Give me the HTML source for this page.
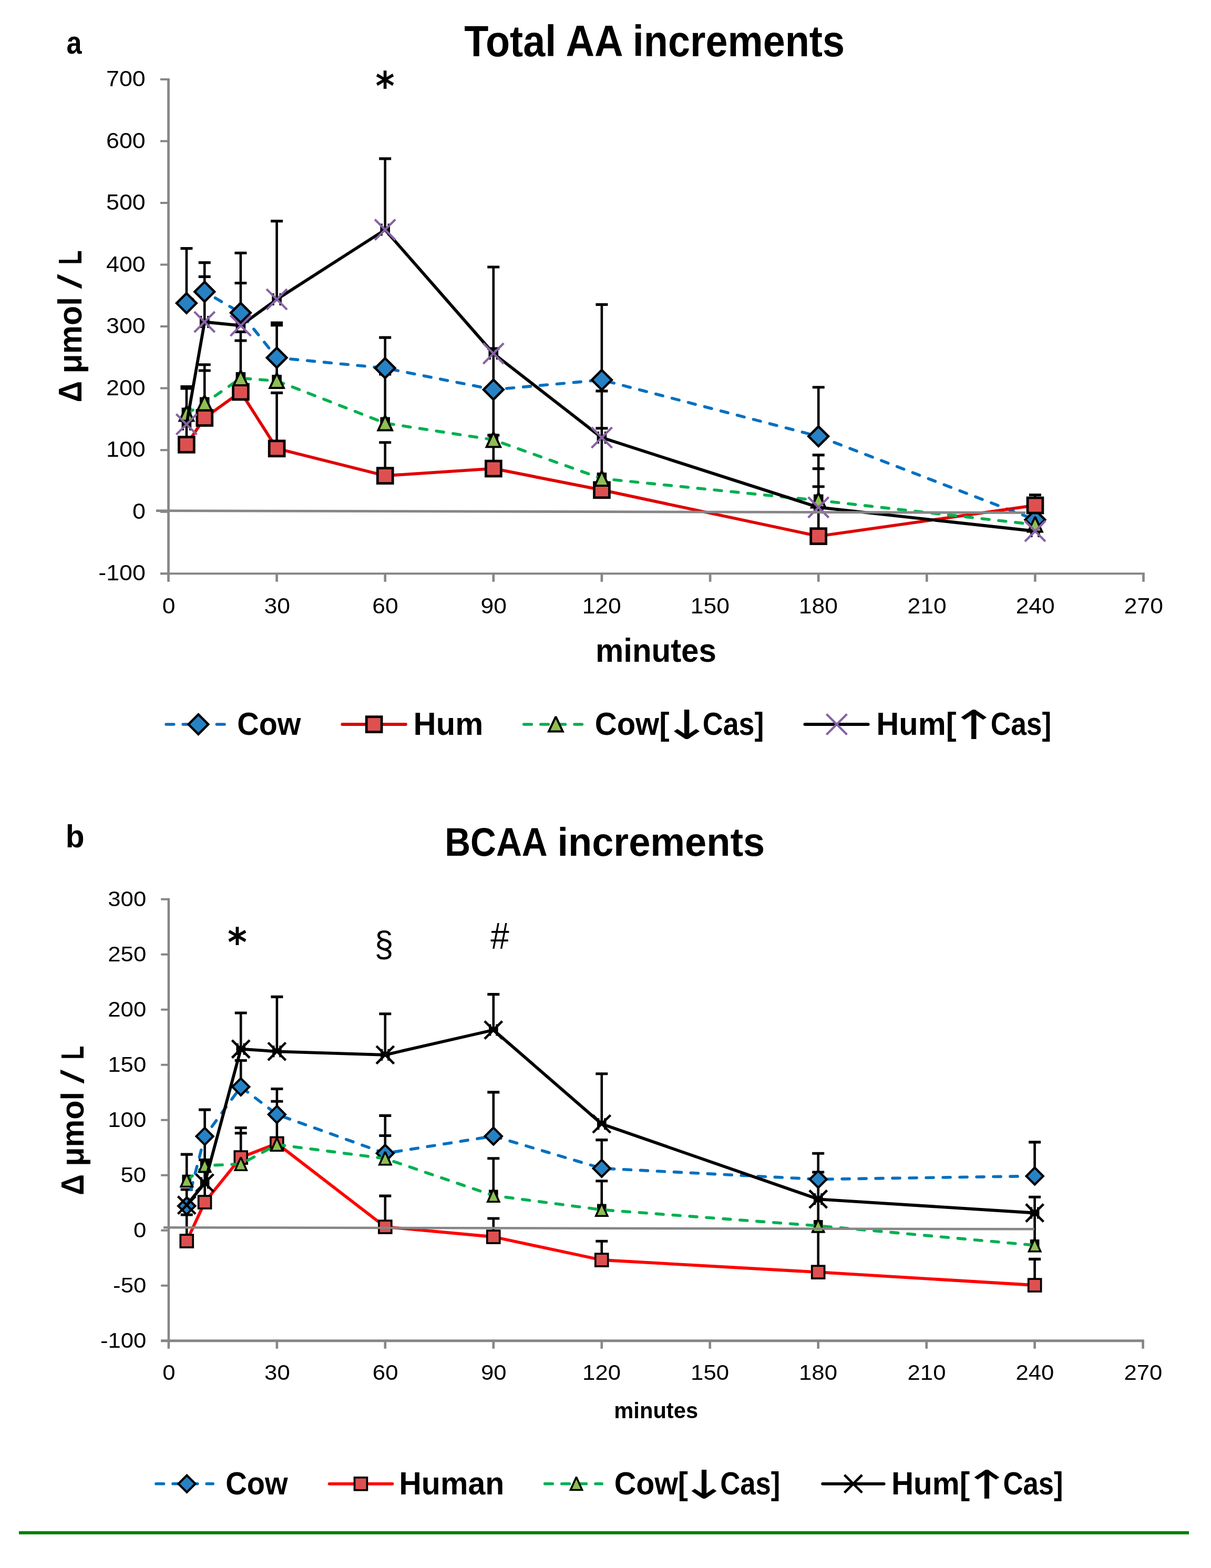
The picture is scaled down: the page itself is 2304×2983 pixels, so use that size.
<!DOCTYPE html>
<html lang="en">
<head>
<meta charset="utf-8">
<title>Total AA increments / BCAA increments</title>
<style>
html,body{margin:0;padding:0;background:#fff}
svg{display:block}
text{font-family:"Liberation Sans",sans-serif;fill:#000}
.b{font-weight:bold}
.dj{font-family:"DejaVu Sans",sans-serif}
.n{font-weight:normal}
</style>
</head>
<body>
<svg width="2304" height="2983" viewBox="0 0 2304 2983">
<rect width="2304" height="2983" fill="#fff"/>
<path d="M305 151H320.5M305 268.5H320.5M305 386.1H320.5M305 503.6H320.5M305 621.1H320.5M305 738.6H320.5M305 856.2H320.5M305 973.7H320.5M305 1091.2H320.5" stroke="#868686" stroke-width="4" fill="none"/>
<path d="M526.6 1091.2V1106.8M732.7 1091.2V1106.8M938.8 1091.2V1106.8M1144.9 1091.2V1106.8M1351.1 1091.2V1106.8M1557.2 1091.2V1106.8M1763.3 1091.2V1106.8M1969.4 1091.2V1106.8M2175.5 1091.2V1106.8" stroke="#868686" stroke-width="4.6" fill="none"/>
<path d="M320.5 149V1106.8" stroke="#868686" stroke-width="4.7" fill="none"/>
<path d="M305 1091.2H2177.8" stroke="#868686" stroke-width="4.0" fill="none"/>
<path d="M354.9 576.8V472.6M389.2 555V499.6M457.9 595.1V481.3M526.6 680.5V614M732.7 700.3V642.1M938.8 741.2V663.1M1144.9 722.8V579.4M1557.2 830.1V736.7M1969.4 988.7V962M354.9 845.8V800M389.2 795V705M457.9 745.5V648M526.6 853.2V747.4M732.7 905V841.8M938.8 891.4V828M1144.9 932.2V921M1557.2 1020V925.7M1969.4 961.4V941.5M354.9 787V735.6M389.2 767V693.8M457.9 719.5V631.3M526.6 724.5V618.6M732.7 805V712M938.8 836.7V745M1144.9 910.5V814.8M1557.2 952V891.6M1969.4 998V985M354.9 807.2V739M389.2 612.5V526.4M457.9 619.4V538.5M526.6 569.5V420.6M732.7 437.1V301.9M938.8 672.5V508M1144.9 832.6V743.9M1557.2 965.2V865.6M1969.4 1010.5V1009" stroke="#000" stroke-width="4.6" fill="none"/>
<path d="M343.4 472.6h23M377.7 499.6h23M446.4 481.3h23M515.1 614h23M721.2 642.1h23M927.3 663.1h23M1133.4 579.4h23M1545.7 736.7h23M1957.9 962h23M343.4 800h23M377.7 705h23M446.4 648h23M515.1 747.4h23M721.2 841.8h23M927.3 828h23M1133.4 921h23M1545.7 925.7h23M1957.9 941.5h23M343.4 735.6h23M377.7 693.8h23M446.4 631.3h23M515.1 618.6h23M721.2 712h23M927.3 745h23M1133.4 814.8h23M1545.7 891.6h23M1957.9 985h23M343.4 739h23M377.7 526.4h23M446.4 538.5h23M515.1 420.6h23M721.2 301.9h23M927.3 508h23M1133.4 743.9h23M1545.7 865.6h23M1957.9 1009h23" stroke="#000" stroke-width="5.1" fill="none"/>
<path d="M347.8 795.7v23M362 795.7v23M347.8 807.2h14.2M382.1 601v23M396.3 601v23M382.1 612.5h14.2M450.8 607.9v23M465 607.9v23M450.8 619.4h14.2M519.5 558v23M533.7 558v23M519.5 569.5h14.2M725.6 425.6v23M739.8 425.6v23M725.6 437.1h14.2M931.7 661v23M945.9 661v23M931.7 672.5h14.2M1137.8 821.1v23M1152 821.1v23M1137.8 832.6h14.2M1550.1 953.7v23M1564.3 953.7v23M1550.1 965.2h14.2M1962.3 999v23M1976.5 999v23M1962.3 1010.5h14.2" stroke="#000" stroke-width="4.4" fill="none"/>
<path d="M345.6 775.5h18.6v23h-18.6zM379.9 755.5h18.6v23h-18.6zM448.6 708h18.6v23h-18.6zM517.3 713h18.6v23h-18.6zM723.4 793.5h18.6v23h-18.6zM929.5 825.2h18.6v23h-18.6zM1135.6 899h18.6v23h-18.6zM1547.9 940.5h18.6v23h-18.6zM1960.1 986.5h18.6v23h-18.6z" fill="#000"/>
<path d="M354.9 576.8L389.2 555L457.9 595.1L526.6 680.5L732.7 700.3L938.8 741.2L1144.9 722.8L1557.2 830.1L1969.4 988.7" stroke="#0070C0" stroke-width="5.6" fill="none" stroke-dasharray="14 18" stroke-linecap="round" stroke-linejoin="round"/>
<path d="M354.9 558L373.7 576.8L354.9 595.6L336 576.8Z" fill="#2682C4" stroke="#000" stroke-width="4.5"/>
<path d="M389.2 536.2L408 555L389.2 573.8L370.4 555Z" fill="#2682C4" stroke="#000" stroke-width="4.5"/>
<path d="M457.9 576.3L476.7 595.1L457.9 613.9L439.1 595.1Z" fill="#2682C4" stroke="#000" stroke-width="4.5"/>
<path d="M526.6 661.7L545.4 680.5L526.6 699.3L507.8 680.5Z" fill="#2682C4" stroke="#000" stroke-width="4.5"/>
<path d="M732.7 681.5L751.5 700.3L732.7 719.1L713.9 700.3Z" fill="#2682C4" stroke="#000" stroke-width="4.5"/>
<path d="M938.8 722.4L957.7 741.2L938.8 760L920 741.2Z" fill="#2682C4" stroke="#000" stroke-width="4.5"/>
<path d="M1144.9 704L1163.8 722.8L1144.9 741.6L1126.1 722.8Z" fill="#2682C4" stroke="#000" stroke-width="4.5"/>
<path d="M1557.2 811.3L1576 830.1L1557.2 848.9L1538.3 830.1Z" fill="#2682C4" stroke="#000" stroke-width="4.5"/>
<path d="M1969.4 969.9L1988.2 988.7L1969.4 1007.5L1950.6 988.7Z" fill="#2682C4" stroke="#000" stroke-width="4.5"/>
<path d="M354.9 845.8L389.2 795L457.9 745.5L526.6 853.2L732.7 905L938.8 891.4L1144.9 932.2L1557.2 1020L1969.4 961.4" stroke="#E00000" stroke-width="5.8" fill="none" stroke-linejoin="round"/>
<rect x="340.4" y="831.4" width="28.9" height="28.9" fill="#DE5050" stroke="#000" stroke-width="4.75"/>
<rect x="374.8" y="780.6" width="28.9" height="28.9" fill="#DE5050" stroke="#000" stroke-width="4.75"/>
<rect x="443.5" y="731.1" width="28.9" height="28.9" fill="#DE5050" stroke="#000" stroke-width="4.75"/>
<rect x="512.2" y="838.8" width="28.9" height="28.9" fill="#DE5050" stroke="#000" stroke-width="4.75"/>
<rect x="718.3" y="890.6" width="28.9" height="28.9" fill="#DE5050" stroke="#000" stroke-width="4.75"/>
<rect x="924.4" y="877" width="28.9" height="28.9" fill="#DE5050" stroke="#000" stroke-width="4.75"/>
<rect x="1130.5" y="917.8" width="28.9" height="28.9" fill="#DE5050" stroke="#000" stroke-width="4.75"/>
<rect x="1542.7" y="1005.6" width="28.9" height="28.9" fill="#DE5050" stroke="#000" stroke-width="4.75"/>
<rect x="1955" y="947" width="28.9" height="28.9" fill="#DE5050" stroke="#000" stroke-width="4.75"/>
<path d="M354.9 787L389.2 767L457.9 719.5L526.6 724.5L732.7 805L938.8 836.7L1144.9 910.5L1557.2 952L1969.4 998" stroke="#00B050" stroke-width="5.6" fill="none" stroke-dasharray="14 18" stroke-linecap="round" stroke-linejoin="round"/>
<path d="M354.9 772.4L368.1 800.5L341.6 800.5Z" fill="#8EBF52" stroke="#000" stroke-width="4.0" stroke-miterlimit="2"/>
<path d="M389.2 752.4L402.5 780.5L375.9 780.5Z" fill="#8EBF52" stroke="#000" stroke-width="4.0" stroke-miterlimit="2"/>
<path d="M457.9 704.9L471.2 733L444.6 733Z" fill="#8EBF52" stroke="#000" stroke-width="4.0" stroke-miterlimit="2"/>
<path d="M526.6 709.9L539.9 738L513.4 738Z" fill="#8EBF52" stroke="#000" stroke-width="4.0" stroke-miterlimit="2"/>
<path d="M732.7 790.4L746 818.5L719.5 818.5Z" fill="#8EBF52" stroke="#000" stroke-width="4.0" stroke-miterlimit="2"/>
<path d="M938.8 822.1L952.1 850.2L925.6 850.2Z" fill="#8EBF52" stroke="#000" stroke-width="4.0" stroke-miterlimit="2"/>
<path d="M1144.9 895.9L1158.2 924L1131.7 924Z" fill="#8EBF52" stroke="#000" stroke-width="4.0" stroke-miterlimit="2"/>
<path d="M1557.2 937.4L1570.4 965.5L1543.9 965.5Z" fill="#8EBF52" stroke="#000" stroke-width="4.0" stroke-miterlimit="2"/>
<path d="M1969.4 983.4L1982.6 1011.5L1956.1 1011.5Z" fill="#8EBF52" stroke="#000" stroke-width="4.0" stroke-miterlimit="2"/>
<path d="M354.9 807.2L389.2 612.5L457.9 619.4L526.6 569.5L732.7 437.1L938.8 672.5L1144.9 832.6L1557.2 965.2L1969.4 1010.5" stroke="#000" stroke-width="5.8" fill="none" stroke-linejoin="round"/>
<path d="M335.3 787.7L374.4 826.7M335.3 826.7L374.4 787.7" fill="none" stroke="#8762A6" stroke-width="4.2"/>
<path d="M369.7 593L408.7 632M369.7 632L408.7 593" fill="none" stroke="#8762A6" stroke-width="4.2"/>
<path d="M438.4 599.9L477.4 638.9M438.4 638.9L477.4 599.9" fill="none" stroke="#8762A6" stroke-width="4.2"/>
<path d="M507.1 550L546.1 589M507.1 589L546.1 550" fill="none" stroke="#8762A6" stroke-width="4.2"/>
<path d="M713.2 417.6L752.2 456.6M713.2 456.6L752.2 417.6" fill="none" stroke="#8762A6" stroke-width="4.2"/>
<path d="M919.3 653L958.3 692M919.3 692L958.3 653" fill="none" stroke="#8762A6" stroke-width="4.2"/>
<path d="M1125.4 813.1L1164.5 852.1M1125.4 852.1L1164.5 813.1" fill="none" stroke="#8762A6" stroke-width="4.2"/>
<path d="M1537.7 945.7L1576.7 984.7M1537.7 984.7L1576.7 945.7" fill="none" stroke="#8762A6" stroke-width="4.2"/>
<path d="M1949.9 991L1988.9 1030M1949.9 1030L1988.9 991" fill="none" stroke="#8762A6" stroke-width="4.2"/>
<path d="M297 971.6L1951 975.4" stroke="#868686" stroke-width="4.8" fill="none"/>
<path d="M316.1 1378H427.3" stroke="#0070C0" stroke-width="5.6" stroke-dasharray="14.6 17.5" stroke-linecap="round" fill="none"/>
<path d="M377.4 1359.2L396.2 1378L377.4 1396.8L358.6 1378Z" fill="#2682C4" stroke="#000" stroke-width="4.5"/>
<path d="M651.3 1378H772" stroke="#E00000" stroke-width="5.8" stroke-linecap="round" fill="none"/>
<rect x="697.2" y="1363.6" width="28.9" height="28.9" fill="#DE5050" stroke="#000" stroke-width="4.75"/>
<path d="M996.7 1378H1107.3" stroke="#00B050" stroke-width="5.6" stroke-dasharray="14.6 17.5" stroke-linecap="round" fill="none"/>
<path d="M1057.4 1363.4L1070.7 1391.5L1044.1 1391.5Z" fill="#8EBF52" stroke="#000" stroke-width="4.0" stroke-miterlimit="2"/>
<path d="M1531.4 1378H1651.7" stroke="#000" stroke-width="5.8" stroke-linecap="round" fill="none"/>
<path d="M1572.4 1358.5L1611.4 1397.5M1572.4 1397.5L1611.4 1358.5" fill="none" stroke="#8762A6" stroke-width="4.2"/>
<path d="M306.2 1710.7H320.9M306.2 1815.7H320.9M306.2 1920.7H320.9M306.2 2025.7H320.9M306.2 2130.8H320.9M306.2 2235.8H320.9M306.2 2340.8H320.9M306.2 2445.8H320.9M306.2 2550.8H320.9" stroke="#868686" stroke-width="4" fill="none"/>
<path d="M526.9 2550.8V2565.7M732.8 2550.8V2565.7M938.8 2550.8V2565.7M1144.8 2550.8V2565.7M1350.7 2550.8V2565.7M1556.7 2550.8V2565.7M1762.7 2550.8V2565.7M1968.6 2550.8V2565.7M2174.6 2550.8V2565.7" stroke="#868686" stroke-width="4.6" fill="none"/>
<path d="M320.9 1708.7V2565.7" stroke="#868686" stroke-width="4.5" fill="none"/>
<path d="M306.2 2550.8H2176.9" stroke="#868686" stroke-width="5.0" fill="none"/>
<path d="M355.2 2294.3V2263M389.6 2161.8V2111.1M458.2 2067.6V2017.5M526.9 2120.2V2095.2M732.8 2194.1V2122.4M938.8 2161.4V2077.9M1144.8 2222.7V2168.6M1556.7 2243.5V2194.2M1968.6 2237.4V2172.9M355.2 2361V2311M389.6 2287V2229M458.2 2202V2145.5M526.9 2175.4V2122M732.8 2334V2275.1M938.8 2353V2318M1144.8 2397V2361.3M1556.7 2420.2V2343M1968.6 2445V2395.4M355.2 2245.8V2196.1M389.6 2217.5V2163M458.2 2214.5V2155.8M526.9 2177.5V2071.5M732.8 2204V2160.5M938.8 2274.5V2203.7M1144.8 2301.5V2246.7M1556.7 2332V2243.5M1968.6 2369V2277.3M355.2 2292.7V2263M389.6 2250.4V2206.5M458.2 1995.7V1927M526.9 2000.3V1896.4M732.8 2006.8V1928.7M938.8 1959.5V1891.6M1144.8 2138.2V2042.8M1556.7 2281.3V2230M1968.6 2307.5V2277.3" stroke="#000" stroke-width="4.6" fill="none"/>
<path d="M343.7 2263h23M378.1 2111.1h23M446.7 2017.5h23M515.4 2095.2h23M721.3 2122.4h23M927.3 2077.9h23M1133.3 2168.6h23M1545.2 2194.2h23M1957.1 2172.9h23M343.7 2311h23M378.1 2229h23M446.7 2145.5h23M515.4 2122h23M721.3 2275.1h23M927.3 2318h23M1133.3 2361.3h23M1545.2 2343h23M1957.1 2395.4h23M343.7 2196.1h23M378.1 2163h23M446.7 2155.8h23M515.4 2071.5h23M721.3 2160.5h23M927.3 2203.7h23M1133.3 2246.7h23M1545.2 2243.5h23M1957.1 2277.3h23M343.7 2263h23M378.1 2206.5h23M446.7 1927h23M515.4 1896.4h23M721.3 1928.7h23M927.3 1891.6h23M1133.3 2042.8h23M1545.2 2230h23M1957.1 2277.3h23" stroke="#000" stroke-width="5.1" fill="none"/>
<path d="M348.6 2281.7v22M361.8 2281.7v22M348.6 2292.7h13.2M383 2239.4v22M396.2 2239.4v22M383 2250.4h13.2M451.6 1984.7v22M464.8 1984.7v22M451.6 1995.7h13.2M520.3 1989.3v22M533.5 1989.3v22M520.3 2000.3h13.2M726.2 1995.8v22M739.4 1995.8v22M726.2 2006.8h13.2M932.2 1948.5v22M945.4 1948.5v22M932.2 1959.5h13.2M1138.2 2127.2v22M1151.4 2127.2v22M1138.2 2138.2h13.2M1550.1 2270.3v22M1563.3 2270.3v22M1550.1 2281.3h13.2M1962 2296.5v22M1975.2 2296.5v22M1962 2307.5h13.2" stroke="#000" stroke-width="4.4" fill="none"/>
<path d="M346.4 2234.8h17.6v22h-17.6zM380.8 2206.5h17.6v22h-17.6zM449.4 2203.5h17.6v22h-17.6zM518.1 2166.5h17.6v22h-17.6zM724 2193h17.6v22h-17.6zM930 2263.5h17.6v22h-17.6zM1136 2290.5h17.6v22h-17.6zM1547.9 2321h17.6v22h-17.6zM1959.8 2358h17.6v22h-17.6z" fill="#000"/>
<path d="M355.2 2294.3L389.6 2161.8L458.2 2067.6L526.9 2120.2L732.8 2194.1L938.8 2161.4L1144.8 2222.7L1556.7 2243.5L1968.6 2237.4" stroke="#0070C0" stroke-width="5.6" fill="none" stroke-dasharray="14 18" stroke-linecap="round" stroke-linejoin="round"/>
<path d="M355.2 2278.2L371.3 2294.3L355.2 2310.4L339.1 2294.3Z" fill="#2682C4" stroke="#000" stroke-width="4.2"/>
<path d="M389.6 2145.7L405.6 2161.8L389.6 2177.9L373.5 2161.8Z" fill="#2682C4" stroke="#000" stroke-width="4.2"/>
<path d="M458.2 2051.5L474.3 2067.6L458.2 2083.7L442.1 2067.6Z" fill="#2682C4" stroke="#000" stroke-width="4.2"/>
<path d="M526.9 2104.1L542.9 2120.2L526.9 2136.3L510.8 2120.2Z" fill="#2682C4" stroke="#000" stroke-width="4.2"/>
<path d="M732.8 2178L748.9 2194.1L732.8 2210.2L716.8 2194.1Z" fill="#2682C4" stroke="#000" stroke-width="4.2"/>
<path d="M938.8 2145.3L954.9 2161.4L938.8 2177.5L922.7 2161.4Z" fill="#2682C4" stroke="#000" stroke-width="4.2"/>
<path d="M1144.8 2206.6L1160.8 2222.7L1144.8 2238.8L1128.7 2222.7Z" fill="#2682C4" stroke="#000" stroke-width="4.2"/>
<path d="M1556.7 2227.4L1572.8 2243.5L1556.7 2259.6L1540.6 2243.5Z" fill="#2682C4" stroke="#000" stroke-width="4.2"/>
<path d="M1968.6 2221.3L1984.7 2237.4L1968.6 2253.5L1952.6 2237.4Z" fill="#2682C4" stroke="#000" stroke-width="4.2"/>
<path d="M355.2 2361L389.6 2287L458.2 2202L526.9 2175.4L732.8 2334L938.8 2353L1144.8 2397L1556.7 2420.2L1968.6 2445" stroke="#FF0000" stroke-width="5.8" fill="none" stroke-linejoin="round"/>
<rect x="343.3" y="2349.1" width="23.9" height="23.9" fill="#DE5050" stroke="#000" stroke-width="3.7"/>
<rect x="377.6" y="2275.1" width="23.9" height="23.9" fill="#DE5050" stroke="#000" stroke-width="3.7"/>
<rect x="446.3" y="2190.1" width="23.9" height="23.9" fill="#DE5050" stroke="#000" stroke-width="3.7"/>
<rect x="514.9" y="2163.5" width="23.9" height="23.9" fill="#DE5050" stroke="#000" stroke-width="3.7"/>
<rect x="720.9" y="2322.1" width="23.9" height="23.9" fill="#DE5050" stroke="#000" stroke-width="3.7"/>
<rect x="926.8" y="2341.1" width="23.9" height="23.9" fill="#DE5050" stroke="#000" stroke-width="3.7"/>
<rect x="1132.8" y="2385.1" width="23.9" height="23.9" fill="#DE5050" stroke="#000" stroke-width="3.7"/>
<rect x="1544.7" y="2408.2" width="23.9" height="23.9" fill="#DE5050" stroke="#000" stroke-width="3.7"/>
<rect x="1956.7" y="2433.1" width="23.9" height="23.9" fill="#DE5050" stroke="#000" stroke-width="3.7"/>
<path d="M355.2 2245.8L389.6 2217.5L458.2 2214.5L526.9 2177.5L732.8 2204L938.8 2274.5L1144.8 2301.5L1556.7 2332L1968.6 2369" stroke="#00B050" stroke-width="5.6" fill="none" stroke-dasharray="14 18" stroke-linecap="round" stroke-linejoin="round"/>
<path d="M355.2 2233.1L366.3 2257.5L344.2 2257.5Z" fill="#8EBF52" stroke="#000" stroke-width="3.6" stroke-miterlimit="2"/>
<path d="M389.6 2204.8L400.6 2229.2L378.5 2229.2Z" fill="#8EBF52" stroke="#000" stroke-width="3.6" stroke-miterlimit="2"/>
<path d="M458.2 2201.8L469.2 2226.2L447.2 2226.2Z" fill="#8EBF52" stroke="#000" stroke-width="3.6" stroke-miterlimit="2"/>
<path d="M526.9 2164.8L537.9 2189.2L515.8 2189.2Z" fill="#8EBF52" stroke="#000" stroke-width="3.6" stroke-miterlimit="2"/>
<path d="M732.8 2191.3L743.9 2215.7L721.8 2215.7Z" fill="#8EBF52" stroke="#000" stroke-width="3.6" stroke-miterlimit="2"/>
<path d="M938.8 2261.8L949.8 2286.2L927.8 2286.2Z" fill="#8EBF52" stroke="#000" stroke-width="3.6" stroke-miterlimit="2"/>
<path d="M1144.8 2288.8L1155.8 2313.2L1133.7 2313.2Z" fill="#8EBF52" stroke="#000" stroke-width="3.6" stroke-miterlimit="2"/>
<path d="M1556.7 2319.3L1567.7 2343.7L1545.7 2343.7Z" fill="#8EBF52" stroke="#000" stroke-width="3.6" stroke-miterlimit="2"/>
<path d="M1968.6 2356.3L1979.7 2380.7L1957.6 2380.7Z" fill="#8EBF52" stroke="#000" stroke-width="3.6" stroke-miterlimit="2"/>
<path d="M355.2 2292.7L389.6 2250.4L458.2 1995.7L526.9 2000.3L732.8 2006.8L938.8 1959.5L1144.8 2138.2L1556.7 2281.3L1968.6 2307.5" stroke="#000" stroke-width="5.8" fill="none" stroke-linejoin="round"/>
<path d="M338.5 2275.9L372 2309.5M338.5 2309.5L372 2275.9" fill="none" stroke="#000000" stroke-width="4.6"/>
<path d="M372.8 2233.6L406.3 2267.2M372.8 2267.2L406.3 2233.6" fill="none" stroke="#000000" stroke-width="4.6"/>
<path d="M441.4 1978.9L475 2012.5M441.4 2012.5L475 1978.9" fill="none" stroke="#000000" stroke-width="4.6"/>
<path d="M510.1 1983.5L543.6 2017.1M510.1 2017.1L543.6 1983.5" fill="none" stroke="#000000" stroke-width="4.6"/>
<path d="M716.1 1990L749.6 2023.6M716.1 2023.6L749.6 1990" fill="none" stroke="#000000" stroke-width="4.6"/>
<path d="M922 1942.7L955.6 1976.3M922 1976.3L955.6 1942.7" fill="none" stroke="#000000" stroke-width="4.6"/>
<path d="M1128 2121.4L1161.5 2155M1128 2155L1161.5 2121.4" fill="none" stroke="#000000" stroke-width="4.6"/>
<path d="M1539.9 2264.5L1573.5 2298.1M1539.9 2298.1L1573.5 2264.5" fill="none" stroke="#000000" stroke-width="4.6"/>
<path d="M1951.9 2290.7L1985.4 2324.3M1951.9 2324.3L1985.4 2290.7" fill="none" stroke="#000000" stroke-width="4.6"/>
<path d="M311 2335.2L1968 2338.3" stroke="#868686" stroke-width="4.6" fill="none"/>
<path d="M296.9 2822.8H405.2" stroke="#0070C0" stroke-width="5.6" stroke-dasharray="14.6 17.5" stroke-linecap="round" fill="none"/>
<path d="M355.5 2806.7L371.6 2822.8L355.5 2838.9L339.4 2822.8Z" fill="#2682C4" stroke="#000" stroke-width="4.2"/>
<path d="M626.6 2822.8H746.5" stroke="#FF0000" stroke-width="5.8" stroke-linecap="round" fill="none"/>
<rect x="674.5" y="2810.9" width="23.9" height="23.9" fill="#DE5050" stroke="#000" stroke-width="3.7"/>
<path d="M1036.7 2822.8H1145.2" stroke="#00B050" stroke-width="5.6" stroke-dasharray="14.6 17.5" stroke-linecap="round" fill="none"/>
<path d="M1096.5 2810.1L1107.5 2834.5L1085.5 2834.5Z" fill="#8EBF52" stroke="#000" stroke-width="3.6" stroke-miterlimit="2"/>
<path d="M1565.1 2822.8H1681.7" stroke="#000" stroke-width="5.8" stroke-linecap="round" fill="none"/>
<path d="M1606.6 2806L1640.2 2839.6M1606.6 2839.6L1640.2 2806" fill="none" stroke="#000000" stroke-width="4.6"/>
<rect x="36" y="2913" width="2226" height="6" fill="#008000"/>
<text class="b" x="126.43" y="102.18" font-size="61.64" textLength="29.07" lengthAdjust="spacingAndGlyphs">a</text>
<text class="b" x="883.34" y="106.76" font-size="83.67" textLength="723.73" lengthAdjust="spacingAndGlyphs">Total AA increments</text>
<text class="b" x="1132.9" y="1259.28" font-size="62.45" textLength="229.94" lengthAdjust="spacingAndGlyphs">minutes</text>
<text class="b dj" x="714.62" y="190.14" font-size="75.48" textLength="36.17" lengthAdjust="spacingAndGlyphs">*</text>
<text class="b" x="124.69" y="1611.69" font-size="61.22" textLength="35.8" lengthAdjust="spacingAndGlyphs">b</text>
<text class="b"><tspan x="846.2" y="1628.3" font-size="76.38" textLength="195.54" lengthAdjust="spacingAndGlyphs">BCAA</tspan> <tspan x="1060.42" y="1628.3" font-size="76.38" textLength="394.88" lengthAdjust="spacingAndGlyphs">increments</tspan></text>
<text class="b" x="1168.29" y="2698.37" font-size="43.13" textLength="159.84" lengthAdjust="spacingAndGlyphs">minutes</text>
<text class="b dj" x="433.09" y="1819.02" font-size="75.05" textLength="36.83" lengthAdjust="spacingAndGlyphs">*</text>
<text x="712.61" y="1819.61" font-size="68.15" textLength="36.02" lengthAdjust="spacingAndGlyphs">§</text>
<text x="933.18" y="1805" font-size="70.51" textLength="35.51" lengthAdjust="spacingAndGlyphs">#</text>
<text class="b" x="451.3" y="1397.6" font-size="61.45" textLength="121.14" lengthAdjust="spacingAndGlyphs">Cow</text>
<text class="b" x="786.62" y="1397.6" font-size="61.45" textLength="132.69" lengthAdjust="spacingAndGlyphs">Hum</text>
<text class="b"><tspan x="1131.78" y="1397.6" font-size="61.45" textLength="141.83" lengthAdjust="spacingAndGlyphs">Cow[</tspan><tspan class="dj n" x="1258.46" y="1405.7" font-size="76.44" textLength="96.21" lengthAdjust="spacingAndGlyphs">↓</tspan><tspan x="1336.85" y="1397.6" font-size="61.45" textLength="116.44" lengthAdjust="spacingAndGlyphs">Cas]</tspan></text>
<text class="b"><tspan x="1667.22" y="1397.6" font-size="61.45" textLength="152.39" lengthAdjust="spacingAndGlyphs">Hum[</tspan><tspan class="dj n" x="1804.95" y="1405.7" font-size="76.44" textLength="95.42" lengthAdjust="spacingAndGlyphs">↑</tspan><tspan x="1884.67" y="1397.6" font-size="61.45" textLength="115.6" lengthAdjust="spacingAndGlyphs">Cas]</tspan></text>
<text class="b" x="429.26" y="2842.6" font-size="60.29" textLength="118.39" lengthAdjust="spacingAndGlyphs">Cow</text>
<text class="b" x="759.26" y="2842.6" font-size="60.29" textLength="200.03" lengthAdjust="spacingAndGlyphs">Human</text>
<text class="b"><tspan x="1168.7" y="2842.6" font-size="60.29" textLength="140.29" lengthAdjust="spacingAndGlyphs">Cow[</tspan><tspan class="dj n" x="1292.84" y="2850.9" font-size="75.07" textLength="94.24" lengthAdjust="spacingAndGlyphs">↓</tspan><tspan x="1370.19" y="2842.6" font-size="60.29" textLength="114.24" lengthAdjust="spacingAndGlyphs">Cas]</tspan></text>
<text class="b"><tspan x="1695.9" y="2842.6" font-size="60.29" textLength="149.19" lengthAdjust="spacingAndGlyphs">Hum[</tspan><tspan class="dj n" x="1831.09" y="2850.9" font-size="75.07" textLength="93.65" lengthAdjust="spacingAndGlyphs">↑</tspan><tspan x="1908.49" y="2842.6" font-size="60.29" textLength="114.13" lengthAdjust="spacingAndGlyphs">Cas]</tspan></text>
<text x="202.06" y="164.02" font-size="42.68" textLength="74.66" lengthAdjust="spacingAndGlyphs">700</text>
<text x="202.06" y="281.55" font-size="42.68" textLength="74.66" lengthAdjust="spacingAndGlyphs">600</text>
<text x="202.06" y="399.07" font-size="42.68" textLength="74.66" lengthAdjust="spacingAndGlyphs">500</text>
<text x="202.06" y="516.6" font-size="42.68" textLength="74.66" lengthAdjust="spacingAndGlyphs">400</text>
<text x="202.06" y="634.12" font-size="42.68" textLength="74.66" lengthAdjust="spacingAndGlyphs">300</text>
<text x="202.06" y="751.65" font-size="42.68" textLength="74.66" lengthAdjust="spacingAndGlyphs">200</text>
<text x="202.06" y="869.17" font-size="42.68" textLength="74.66" lengthAdjust="spacingAndGlyphs">100</text>
<text x="251.96" y="986.7" font-size="42.68" textLength="24.89" lengthAdjust="spacingAndGlyphs">0</text>
<text x="187.3" y="1104.22" font-size="42.68" textLength="89.56" lengthAdjust="spacingAndGlyphs">-100</text>
<text x="308.77" y="1166.57" font-size="43.1" textLength="24.71" lengthAdjust="spacingAndGlyphs">0</text>
<text x="502.44" y="1166.57" font-size="43.1" textLength="49.42" lengthAdjust="spacingAndGlyphs">30</text>
<text x="708.33" y="1166.57" font-size="43.1" textLength="49.42" lengthAdjust="spacingAndGlyphs">60</text>
<text x="914.55" y="1166.57" font-size="43.1" textLength="49.42" lengthAdjust="spacingAndGlyphs">90</text>
<text x="1107.67" y="1166.57" font-size="43.1" textLength="74.13" lengthAdjust="spacingAndGlyphs">120</text>
<text x="1313.78" y="1166.57" font-size="43.1" textLength="74.13" lengthAdjust="spacingAndGlyphs">150</text>
<text x="1519.89" y="1166.57" font-size="43.1" textLength="74.13" lengthAdjust="spacingAndGlyphs">180</text>
<text x="1726.56" y="1166.57" font-size="43.1" textLength="74.13" lengthAdjust="spacingAndGlyphs">210</text>
<text x="1932.67" y="1166.57" font-size="43.1" textLength="74.13" lengthAdjust="spacingAndGlyphs">240</text>
<text x="2138.78" y="1166.57" font-size="43.1" textLength="74.13" lengthAdjust="spacingAndGlyphs">270</text>
<text x="205.32" y="1724.19" font-size="41.41" textLength="72.87" lengthAdjust="spacingAndGlyphs">300</text>
<text x="205.32" y="1829.2" font-size="41.41" textLength="72.87" lengthAdjust="spacingAndGlyphs">250</text>
<text x="205.32" y="1934.21" font-size="41.41" textLength="72.87" lengthAdjust="spacingAndGlyphs">200</text>
<text x="205.32" y="2039.22" font-size="41.41" textLength="72.87" lengthAdjust="spacingAndGlyphs">150</text>
<text x="205.32" y="2144.24" font-size="41.41" textLength="72.87" lengthAdjust="spacingAndGlyphs">100</text>
<text x="229.55" y="2249.25" font-size="41.41" textLength="48.58" lengthAdjust="spacingAndGlyphs">50</text>
<text x="254.01" y="2354.26" font-size="41.41" textLength="24.29" lengthAdjust="spacingAndGlyphs">0</text>
<text x="215.14" y="2459.27" font-size="41.41" textLength="63.12" lengthAdjust="spacingAndGlyphs">-50</text>
<text x="190.91" y="2564.29" font-size="41.41" textLength="87.41" lengthAdjust="spacingAndGlyphs">-100</text>
<text x="309.38" y="2624.79" font-size="40.7" textLength="24.29" lengthAdjust="spacingAndGlyphs">0</text>
<text x="503.12" y="2624.79" font-size="40.7" textLength="48.58" lengthAdjust="spacingAndGlyphs">30</text>
<text x="708.87" y="2624.79" font-size="40.7" textLength="48.58" lengthAdjust="spacingAndGlyphs">60</text>
<text x="914.94" y="2624.79" font-size="40.7" textLength="48.58" lengthAdjust="spacingAndGlyphs">90</text>
<text x="1108.14" y="2624.79" font-size="40.7" textLength="72.87" lengthAdjust="spacingAndGlyphs">120</text>
<text x="1314.1" y="2624.79" font-size="40.7" textLength="72.87" lengthAdjust="spacingAndGlyphs">150</text>
<text x="1520.07" y="2624.79" font-size="40.7" textLength="72.87" lengthAdjust="spacingAndGlyphs">180</text>
<text x="1726.58" y="2624.79" font-size="40.7" textLength="72.87" lengthAdjust="spacingAndGlyphs">210</text>
<text x="1932.55" y="2624.79" font-size="40.7" textLength="72.87" lengthAdjust="spacingAndGlyphs">240</text>
<text x="2138.52" y="2624.79" font-size="40.7" textLength="72.87" lengthAdjust="spacingAndGlyphs">270</text>
<text class="b" transform="translate(155 763.1) rotate(-90)"><tspan x="-2.25" y="0" font-size="62.17" textLength="40.43" lengthAdjust="spacingAndGlyphs">Δ</tspan> <tspan x="52.63" y="0" font-size="62.17" textLength="145.61" lengthAdjust="spacingAndGlyphs">μmol</tspan> <tspan class="n" x="213.5" y="0" font-size="62.17" textLength="27.99" lengthAdjust="spacingAndGlyphs">/</tspan> <tspan x="259.52" y="0" font-size="62.17" textLength="27.04" lengthAdjust="spacingAndGlyphs">L</tspan></text>
<text class="b" transform="translate(158.8 2271.5) rotate(-90)"><tspan x="-2.21" y="0" font-size="60.43" textLength="39.76" lengthAdjust="spacingAndGlyphs">Δ</tspan> <tspan x="52.65" y="0" font-size="60.43" textLength="141.79" lengthAdjust="spacingAndGlyphs">μmol</tspan> <tspan class="n" x="210.1" y="0" font-size="60.43" textLength="26.68" lengthAdjust="spacingAndGlyphs">/</tspan> <tspan x="256.06" y="0" font-size="60.43" textLength="25.74" lengthAdjust="spacingAndGlyphs">L</tspan></text>
</svg>
</body>
</html>
